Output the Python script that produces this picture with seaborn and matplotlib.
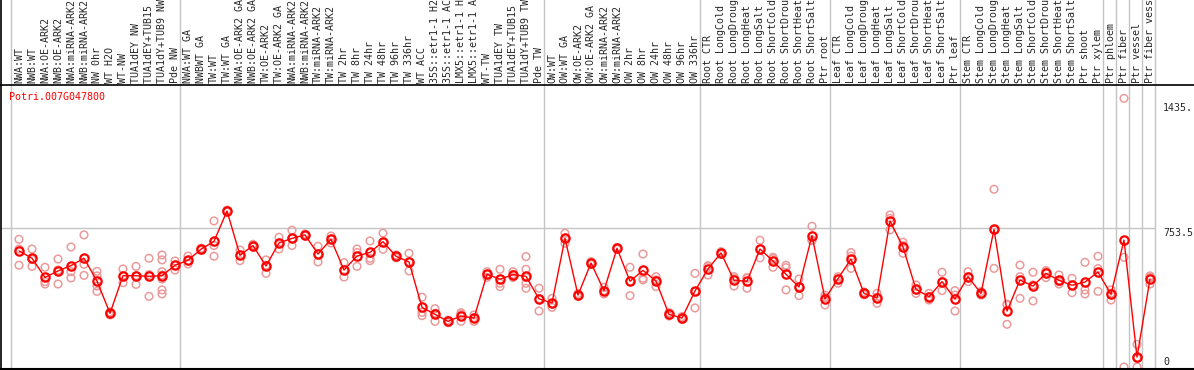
import pandas as pd
import matplotlib.pyplot as plt
import matplotlib.transforms as mtransforms
from matplotlib.lines import Line2D
import seaborn as sns

# sample names, one column per sample
samples = [
    "NWA:WT", "NWB:WT", "NWA:OE-ARK2", "NWB:OE-ARK2", "NWA:miRNA-ARK2", "NWB:miRNA-ARK2",
    "NW 0hr", "WT H2O", "WT-NW", "TUA1dEY NW", "TUA1dEY+TUB15 NW", "TUA1dY+TUB9 NW", "Pde NW",
    "NWA:WT GA", "NWBWT GA", "TW:WT", "TW:WT GA", "NWA:OE-ARK2 GA", "NWB:OE-ARK2 GA",
    "TW:OE-ARK2", "TW:OE-ARK2 GA", "NWA:miRNA-ARK2", "NWB:miRNA-ARK2", "TW:miRNA-ARK2",
    "TW:miRNA-ARK2", "TW 2hr", "TW 8hr", "TW 24hr", "TW 48hr", "TW 96hr", "TW 336hr", "WT ACC",
    "35S::etr1-1 H2O", "35S::etr1-1 ACC", "LMX5::etr1-1 H2O", "LMX5::etr1-1 ACC", "WT-TW",
    "TUA1dEY TW", "TUA1dEY+TUB15 TW", "TUA1dY+TUB9 TW", "Pde TW",
    "OW:WT", "OW:WT GA", "OW:OE-ARK2", "OW:OE-ARK2 GA", "OW:miRNA-ARK2", "OW:miRNA-ARK2",
    "OW 2hr", "OW 8hr", "OW 24hr", "OW 48hr", "OW 96hr", "OW 336hr",
    "Root CTR", "Root LongCold", "Root LongDrought", "Root LongHeat", "Root LongSalt",
    "Root ShortCold", "Root ShortDrought", "Root ShortHeat", "Root ShortSalt", "Ptr root",
    "Leaf CTR", "Leaf LongCold", "Leaf LongDrought", "Leaf LongHeat", "Leaf LongSalt",
    "Leaf ShortCold", "Leaf ShortDrought", "Leaf ShortHeat", "Leaf ShortSalt", "Ptr leaf",
    "Stem CTR", "Stem LongCold", "Stem LongDrought", "Stem LongHeat", "Stem LongSalt",
    "Stem ShortCold", "Stem ShortDrought", "Stem ShortHeat", "Stem ShortSalt", "Ptr shoot",
    "Ptr xylem", "Ptr phloem", "Ptr fiber", "Ptr vessel", "Ptr fiber vessel",
]

# mean expression per sample
means = [
    631, 591, 487, 522, 551, 591, 467, 292, 496, 496, 493, 496, 553,
    580, 640, 683, 848, 607, 660, 549, 674, 699, 718, 614, 694, 527, 603, 623,
    681, 602, 571, 324, 286, 248, 277, 266, 504, 477, 502, 493, 370,
    348, 699, 391, 565, 415, 645, 466, 525, 467, 286, 266, 413,
    533, 620, 471, 466, 641, 576, 504, 435, 714, 370,
    480, 587, 400, 375, 794, 652, 422, 382, 464, 370,
    491, 400, 748, 304, 473, 440, 509, 471, 444, 462, 516, 395,
    690, 54, 478,
]

# replicate values per sample
replicates = [
    [694, 641, 553], [641, 585, 547], [542, 464, 451], [587, 527, 451], [652, 518, 484],
    [718, 558, 498], [520, 495, 440, 411], [299, 292, 283], [533, 496, 458], [547, 496, 449],
    [591, 502, 384], [609, 582, 518, 500, 478, 419, 397], [576, 553, 527],
    [603, 576, 560], [645, 640, 634], [794, 660, 602], [853, 848, 843], [636, 607, 578],
    [667, 660, 652], [582, 553, 509], [705, 674, 641], [743, 699, 660], [723, 718, 712],
    [656, 614, 571], [712, 694, 674], [567, 527, 489], [641, 622, 547], [685, 591, 578],
    [728, 676, 640], [609, 602, 594], [618, 571, 522], [379, 297, 279], [317, 292, 248],
    [255, 248, 241], [295, 286, 248], [283, 268, 248], [518, 504, 487], [531, 455, 437],
    [518, 504, 486], [600, 531, 487, 455, 428], [428, 370, 304],
    [373, 344, 324], [727, 699, 672], [399, 391, 384], [573, 565, 558], [433, 415, 397],
    [650, 645, 640], [542, 466, 388], [614, 482, 473], [491, 473, 437], [295, 286, 277],
    [274, 266, 259], [509, 410, 321],
    [551, 545, 500], [627, 620, 612], [491, 480, 440], [486, 482, 428], [689, 641, 593],
    [596, 589, 542], [553, 540, 419], [478, 437, 388], [765, 690, 687], [391, 379, 337],
    [491, 480, 455], [622, 603, 536], [408, 400, 393], [400, 379, 346], [826, 808, 745],
    [678, 660, 618], [446, 419, 400], [400, 382, 364], [515, 464, 415], [415, 391, 304],
    [518, 491, 464], [410, 400, 391], [966, 745, 536], [342, 337, 232], [554, 491, 373],
    [515, 446, 359], [524, 518, 486], [500, 464, 451], [482, 446, 404], [569, 419, 397],
    [602, 535, 411], [419, 400, 364],
    [1460, 596, 0], [123, 47, 0], [495, 487, 451],
]

# index of the first sample of each group (last one closes the final group)
group_starts = [0, 13, 41, 53, 63, 73, 84, 85, 86, 87, 88]

gene = "Potri.007G047800"
ytick_labels = [(1435, "1435.", "top"), (753.5, "753.5", "top"), (0, "0", "bottom")]

W, H = 1194, 370
fig = plt.figure(figsize=(W / 100, H / 100), dpi=100)
sns.set_style("white")
plt.rcParams["font.family"] = ["DejaVu Sans Mono"]

left_px, right_px, top_px, bot_px = 1, 1155, 85, 369
ax = fig.add_axes([left_px / W, 1 - bot_px / H, (right_px - left_px) / W, (bot_px - top_px) / H])
for s in ax.spines.values():
    s.set_visible(False)
ax.set_xticks([])
ax.set_yticks([])
ax.set_xlim(-1.3846, 87.3846)
ax.set_ylim(-10.9, 1532.6)
ax.set_xlabel("")
ax.set_ylabel("")

pos = list(range(len(samples)))
rep_df = pd.DataFrame({"pos": pos, "value": replicates}).explode("value")
rep_df["value"] = rep_df["value"].astype(float)
mean_df = pd.DataFrame({"pos": pos, "mean": means})

# gray grid lines
gap = 8 / 13
ext = (bot_px - 0) / (bot_px - top_px)
for b in group_starts:
    ax.axvline(b - gap, ymin=0, ymax=ext, color="#c4c4c4", lw=1, clip_on=False, zorder=0)
ax.axhline(753.5, color="#c4c4c4", lw=1, zorder=0)

sns.scatterplot(data=rep_df, x="pos", y="value", ax=ax, marker="o", s=30,
                facecolor="none", edgecolor="#eb9a9a", linewidth=1.1, zorder=2, clip_on=False)
sns.lineplot(data=mean_df, x="pos", y="mean", ax=ax, color="red", lw=1, marker="o",
             markersize=6, mfc="none", mec="red", mew=1.6, zorder=3)
ax.set_xlabel("")
ax.set_ylabel("")

# sample labels above the plot
lab_tr = mtransforms.blended_transform_factory(ax.transData, fig.transFigure)
for i, name in enumerate(samples):
    ax.text(i, 1 - 83 / H, name, rotation=90, ha="center", va="bottom", fontsize=7.2,
            transform=lab_tr, clip_on=False)

# gene name
fig.text(9 / W, 1 - 97 / H, gene, color="red", fontsize=7.2, va="center", ha="left")

# value labels on the right
val_tr = mtransforms.blended_transform_factory(fig.transFigure, ax.transData)
for v, txt, va in ytick_labels:
    ax.text(1163 / W, v, txt, fontsize=7.2, ha="left", va=va, transform=val_tr, clip_on=False)

# frame lines
fig.add_artist(Line2D([0, 1], [1 - top_px / H, 1 - top_px / H], color="black", lw=1.2,
                      transform=fig.transFigure))
fig.add_artist(Line2D([0, 1], [1 - bot_px / H, 1 - bot_px / H], color="black", lw=1.5,
                      transform=fig.transFigure))
fig.add_artist(Line2D([1 / W, 1 / W], [0, 1], color="black", lw=1.2, transform=fig.transFigure))

fig.savefig("out.png", dpi=100)
